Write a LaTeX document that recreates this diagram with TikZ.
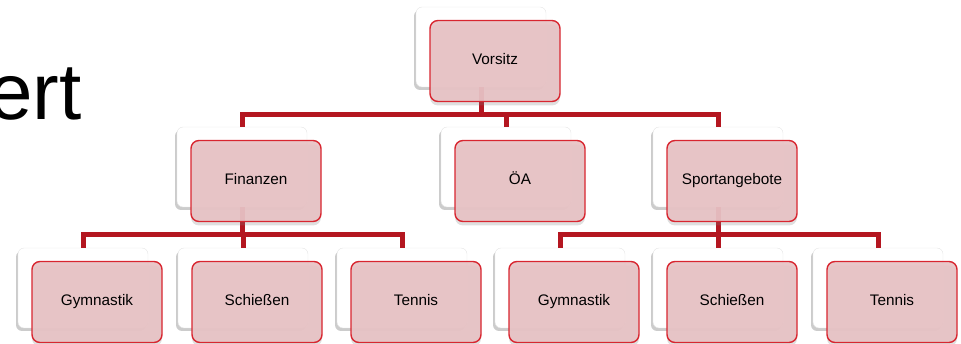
\documentclass[tikz,border=0pt]{standalone}
\usepackage{fontspec}
\setmainfont{Liberation Sans}
\usetikzlibrary{shadows}
\definecolor{linered}{RGB}{180,22,32}
\definecolor{boxred}{RGB}{216,38,48}
\definecolor{boxfill}{RGB}{232,195,197}
\begin{document}
\begin{tikzpicture}[x=1pt,y=-1pt,
	backbox/.style={rectangle, rounded corners=6pt, minimum width=130pt, minimum height=80pt, inner sep=0pt,
		fill=white, draw=gray!20, drop shadow={shadow xshift=-2pt, shadow yshift=-3pt, opacity=0.4}},
	frontbox/.style={rectangle, rounded corners=8pt, minimum width=130pt, minimum height=81pt, inner sep=0pt,
		fill=boxfill, fill opacity=0.93, text opacity=1, draw=boxred, line width=1.4pt,
		font=\fontsize{15.3}{18}\selectfont, text height=11pt, text depth=3pt,
		drop shadow={shadow xshift=0pt, shadow yshift=-4pt, opacity=0.25}},
	link/.style={draw=linered, line width=5pt}]
	\useasboundingbox (0,0) rectangle (961,344);
	% title rest
	\node[anchor=base east, inner sep=0pt, font=\fontsize{80}{90}\selectfont] (title) at (82,120) {ert};
	% back boxes
	\node[backbox] (b-vorsitz) at (481,47) {};
	\node[backbox] (b-finanzen) at (242,167) {};
	\node[backbox] (b-oea) at (506,167) {};
	\node[backbox] (b-sport) at (718,167) {};
	\node[backbox] (b-gymA) at (83,288) {};
	\node[backbox] (b-schiessA) at (243,288) {};
	\node[backbox] (b-tennisA) at (402,288) {};
	\node[backbox] (b-gymB) at (560,288) {};
	\node[backbox] (b-schiessB) at (718,288) {};
	\node[backbox] (b-tennisB) at (878,288) {};
	% connectors
	\coordinate (bar1) at (0,115);
	\coordinate (bar2) at (0,235);
	\foreach \c in {finanzen,oea,sport}
		\draw[link] (b-vorsitz.south) -- (b-vorsitz.south |- bar1) -| (b-\c.north);
	\foreach \c in {gymA,schiessA,tennisA}
		\draw[link] (b-finanzen.south) -- (b-finanzen.south |- bar2) -| (b-\c.north);
	\foreach \c in {gymB,schiessB,tennisB}
		\draw[link] (b-sport.south) -- (b-sport.south |- bar2) -| (b-\c.north);
	% front boxes
	\node[frontbox] (vorsitz) at (495,61) {Vorsitz};
	\node[frontbox] (finanzen) at (256,181) {Finanzen};
	\node[frontbox] (oea) at (520,181) {ÖA};
	\node[frontbox] (sport) at (732,181) {Sportangebote};
	\node[frontbox] (gymA) at (97,302) {Gymnastik};
	\node[frontbox] (schiessA) at (257,302) {Schießen};
	\node[frontbox] (tennisA) at (416,302) {Tennis};
	\node[frontbox] (gymB) at (574,302) {Gymnastik};
	\node[frontbox] (schiessB) at (732,302) {Schießen};
	\node[frontbox] (tennisB) at (892,302) {Tennis};
\end{tikzpicture}
\end{document}
